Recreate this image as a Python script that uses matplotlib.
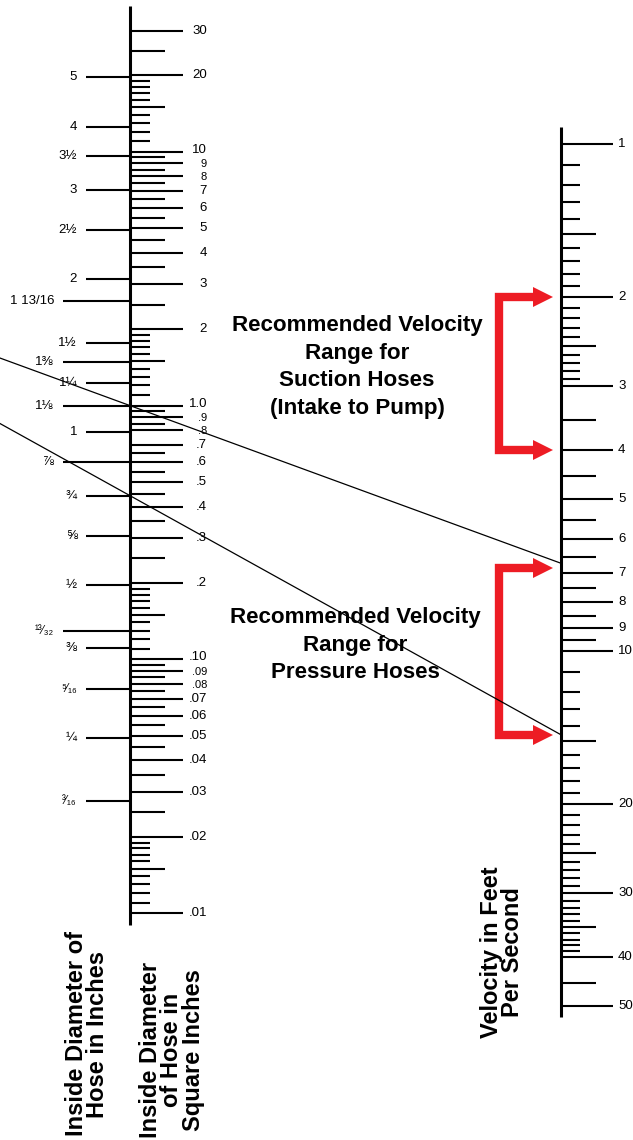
import numpy as np
import matplotlib
matplotlib.use("Agg")
import matplotlib.pyplot as plt

# ===== data read off the nomograph =====
# area scale (square inches), right side of the left axis
area_major = [30, 20, 10, 9, 8, 7, 6, 5, 4, 3, 2, 1.0, .9, .8, .7, .6, .5, .4, .3, .2,
              .10, .09, .08, .07, .06, .05, .04, .03, .02, .01]
area_major_labels = ['30', '20', '10', '9', '8', '7', '6', '5', '4', '3', '2', '1.0', '.9', '.8',
                     '.7', '.6', '.5', '.4', '.3', '.2', '.10', '.09', '.08', '.07', '.06', '.05',
                     '.04', '.03', '.02', '.01']
area_mid = [25, 15, 9.5, 8.5, 7.5, 6.5, 5.5, 4.5, 3.5, 2.5, 1.5, .95, .85, .65, .55, .45, .35,
            .25, .15, .095, .085, .075, .065, .055, .045, .035, .025, .015]
area_minor = [19, 18, 17, 16, 14, 13, 12, 11, 1.9, 1.8, 1.7, 1.6, 1.4, 1.3, 1.2, 1.1,
              .19, .18, .17, .16, .14, .13, .12, .11, .019, .018, .017, .016, .014, .013, .012, .011]

# inside diameter (inches), left side of the left axis
dia_values = [5, 4, 3.5, 3, 2.5, 2, 1.8125, 1.5, 1.375, 1.25, 1.125, 1, .875, .75, .625, .5,
              .40625, .375, .3125, .25, .1875]
dia_labels = ['5', '4', '3½', '3', '2½', '2', '1 13/16', '1½', '1⅜', '1¼', '1⅛', '1', '⅞', '¾',
              '⅝', '½', '¹³⁄₃₂', '⅜', '⁵⁄₁₆', '¼', '³⁄₁₆']
dia_long = [False, False, False, False, False, False, True, False, True, False, True, False,
            True, False, False, False, True, False, False, False, False]

# velocity scale (feet per second)
vel_major = [1, 2, 3, 4, 5, 6, 7, 8, 9, 10, 20, 30, 40, 50]
vel_mid = [1.5, 2.5, 3.5, 4.5, 5.5, 6.5, 7.5, 8.5, 9.5, 15, 25, 35, 45]
vel_minor = [1.1, 1.2, 1.3, 1.4, 1.6, 1.7, 1.8, 1.9, 2.1, 2.2, 2.3, 2.4, 2.6, 2.7, 2.8, 2.9,
             11, 12, 13, 14, 16, 17, 18, 19, 21, 22, 23, 24, 26, 27, 28, 29,
             31, 32, 33, 34, 36, 37, 38, 39]

# recommended ranges (ft/s)
suction_range = (2, 4)
pressure_range = (6.85, 14.6)

# example lines: (area in sq in on left scale, velocity reached on right scale)
example_area = [1.0, np.pi / 4 * 0.75 ** 2]
example_vel = [6.7, 14.6]

area_span = (0.009, 37.5)
vel_span = (0.924, 52.6)

# ===== layout =====
W, H = 633, 1140
X_AREA = 130
X_VEL = 561
RED = '#ED1C24'
FONT = ['Liberation Sans', 'DejaVu Sans']
LAB_FS = 9.5
# crowded area labels: (font size, vertical nudge in px)
CROWDED = {'10': (LAB_FS, 2), '9': (8, -1), '8': (8, -1),
           '1.0': (LAB_FS, 2), '.9': (8, -1), '.8': (8, -1),
           '.10': (LAB_FS, 2), '.09': (8, -1), '.08': (8, -1)}


def area_from_dia(d):
    return np.pi / 4 * np.asarray(d) ** 2


def vel_at_px(y):
    # velocity value sitting at pixel row y (used to place the headings)
    return 10 ** ((y - 144.45) / 507)


fig = plt.figure(figsize=(W / 100, H / 100), dpi=100)

ax_area = fig.add_axes([0, 0, 1, 1])
ax_area.set_yscale('log')
ax_area.set_xlim(0, W)
ax_area.set_ylim(10 ** ((405.6 - H) / 253.85), 10 ** (405.6 / 253.85))
ax_area.axis('off')

ax_vel = fig.add_axes([0, 0, 1, 1])
ax_vel.set_yscale('log')
ax_vel.set_xlim(0, W)
ax_vel.set_ylim(vel_at_px(H), vel_at_px(0))
ax_vel.axis('off')
ax_vel.patch.set_alpha(0)

ax_px = fig.add_axes([0, 0, 1, 1])
ax_px.set_xlim(0, W)
ax_px.set_ylim(H, 0)
ax_px.axis('off')
ax_px.patch.set_alpha(0)

tick_lw = 1.5

# ----- left axis: area + diameter -----
ax_area.plot([X_AREA, X_AREA], area_span, color='k', lw=2.2, solid_capstyle='butt')
ax_area.hlines(area_major, X_AREA, 183, color='k', lw=tick_lw)
ax_area.hlines(area_mid, X_AREA, 165, color='k', lw=tick_lw)
ax_area.hlines(area_minor, X_AREA, 150, color='k', lw=tick_lw)
for a, lab in zip(area_major, area_major_labels):
    fs, dy = CROWDED.get(lab, (LAB_FS, 0))
    ax_area.annotate(lab, (207, a), xytext=(0, dy), textcoords='offset pixels',
                     ha='right', va='center', fontsize=fs, family=FONT)

dia_areas = area_from_dia(dia_values)
for a, lab, lng in zip(dia_areas, dia_labels, dia_long):
    x0 = 63 if lng else 86
    ax_area.hlines(a, x0, X_AREA, color='k', lw=tick_lw)
    fs = 8.5 if lab[0] in '¹⁵³' else LAB_FS
    ax_area.text(x0 - 9, a, lab, ha='right', va='center', fontsize=fs, family=FONT)

# ----- right axis: velocity -----
ax_vel.plot([X_VEL, X_VEL], vel_span, color='k', lw=2.2, solid_capstyle='butt')
ax_vel.hlines(vel_major, X_VEL, 613, color='k', lw=tick_lw)
ax_vel.hlines(vel_mid, X_VEL, 596, color='k', lw=tick_lw)
ax_vel.hlines(vel_minor, X_VEL, 580, color='k', lw=tick_lw)
for v in vel_major:
    ax_vel.text(618, v, str(v), ha='left', va='center', fontsize=LAB_FS, family=FONT)

# ----- red range brackets -----
for lo, hi in (suction_range, pressure_range):
    ax_vel.plot([536, 499, 499, 536], [lo, lo, hi, hi], color=RED, lw=6,
                solid_joinstyle='miter', solid_capstyle='butt')
    ax_vel.plot([543, 543], [lo, hi], ls='none', marker='>', ms=14.5, color=RED,
                markeredgewidth=0)

# ----- example lines, extended to the left edge -----
inv = ax_px.transData.inverted()
for a, v in zip(example_area, example_vel):
    p1 = inv.transform(ax_area.transData.transform((X_AREA, a)))
    p2 = inv.transform(ax_vel.transData.transform((X_VEL, v)))
    slope = (p2[1] - p1[1]) / (p2[0] - p1[0])
    y0 = p1[1] - slope * p1[0]
    ax_px.plot([0, p2[0]], [y0, p2[1]], color='k', lw=0.9)

# ----- headings -----
head = dict(ha='center', va='center', ma='center', fontsize=16.1, fontweight='bold',
            family=FONT, linespacing=1.42)
ax_vel.text(357, vel_at_px(367), 'Recommended Velocity\nRange for\nSuction Hoses\n(Intake to Pump)', **head)
ax_vel.text(355, vel_at_px(645), 'Recommended Velocity\nRange for\nPressure Hoses', **head)

# ----- axis titles -----
title = dict(rotation=90, ha='center', va='center', ma='center', fontsize=17,
             fontweight='bold', family=FONT, linespacing=0.9)
ax_px.text(87, 1034, 'Inside Diameter of\nHose in Inches', **title)
ax_px.text(172, 1050, 'Inside Diameter\nof Hose in\nSquare Inches', **title)
ax_px.text(502, 952, 'Velocity in Feet\nPer Second', **title)

fig.savefig('out.png', dpi=100)
